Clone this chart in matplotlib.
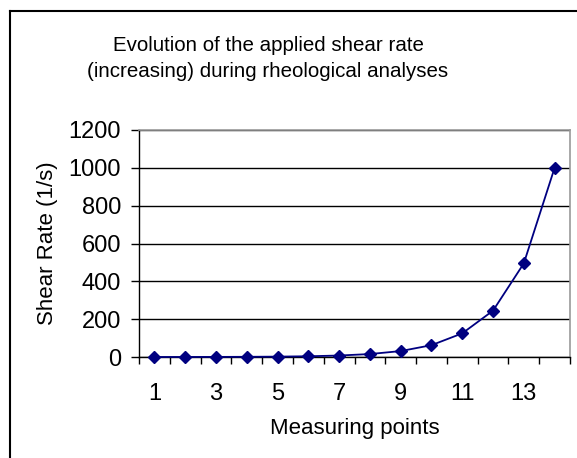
import matplotlib
matplotlib.use("Agg")
import matplotlib.pyplot as plt
from matplotlib.lines import Line2D

points = list(range(1, 15))
shear_rate = [0.12, 0.24, 0.49, 0.98, 1.95, 3.9, 7.8, 15.6, 31.3, 62.5, 125, 245, 495, 1000]
x_tick_labels = ["1", "3", "5", "7", "9", "11", "13"]
y_ticks = [0, 200, 400, 600, 800, 1000, 1200]

plt.rcParams['font.family'] = ['Liberation Sans', 'DejaVu Sans']

W, H = 577, 458
fig = plt.figure(figsize=(W / 100, H / 100), dpi=100)
ax = fig.add_axes([139 / W, 1 - 357 / H, (570 - 139) / W, (357 - 130) / H])

ax.plot(points, shear_rate, color='#000080', lw=1.3, marker='D', markersize=6.3,
        markerfacecolor='#000080', markeredgecolor='#000080', zorder=3, clip_on=False)

ax.set_xlim(0.5, 14.5)
ax.set_ylim(0, 1200)
ax.set_yticks(y_ticks)
ax.set_yticklabels([str(v) for v in y_ticks], fontsize=17)
ax.yaxis.grid(True, color='black', lw=1.0)
ax.set_axisbelow(True)

ax.set_xticks([i + 0.5 for i in range(0, 15)])
ax.set_xticklabels([])
ax.set_xticks([1, 3, 5, 7, 9, 11, 13], minor=True)
ax.set_xticklabels(x_tick_labels, minor=True, fontsize=17)
ax.tick_params(axis='x', which='minor', length=0, pad=19)
ax.tick_params(axis='x', which='major', direction='out', length=5, width=1, color='black')
ax.tick_params(axis='y', direction='out', length=5.8, width=1, color='black', pad=7)

for s in ['left', 'bottom']:
    ax.spines[s].set_color('black')
    ax.spines[s].set_linewidth(1.0)
for s in ['right', 'top']:
    ax.spines[s].set_color('#999999')
    ax.spines[s].set_linewidth(1.2)

ax.set_xlabel('Measuring points', fontsize=16, labelpad=9)
ax.set_ylabel('Shear Rate (1/s)', fontsize=16, labelpad=7.5)

fig.text(268 / W, 1 - 58.5 / H, 'Evolution of the applied shear rate\n(increasing) during rheological analyses',
         ha='center', va='center', fontsize=14.8, linespacing=1.5)

fig.add_artist(Line2D([10 / W, 1], [1 - 11 / H, 1 - 11 / H], color='black', lw=1.5, transform=fig.transFigure))
fig.add_artist(Line2D([10 / W, 10 / W], [0, 1 - 11 / H], color='black', lw=1.5, transform=fig.transFigure))

fig.savefig('out.png', dpi=100, facecolor='white')
